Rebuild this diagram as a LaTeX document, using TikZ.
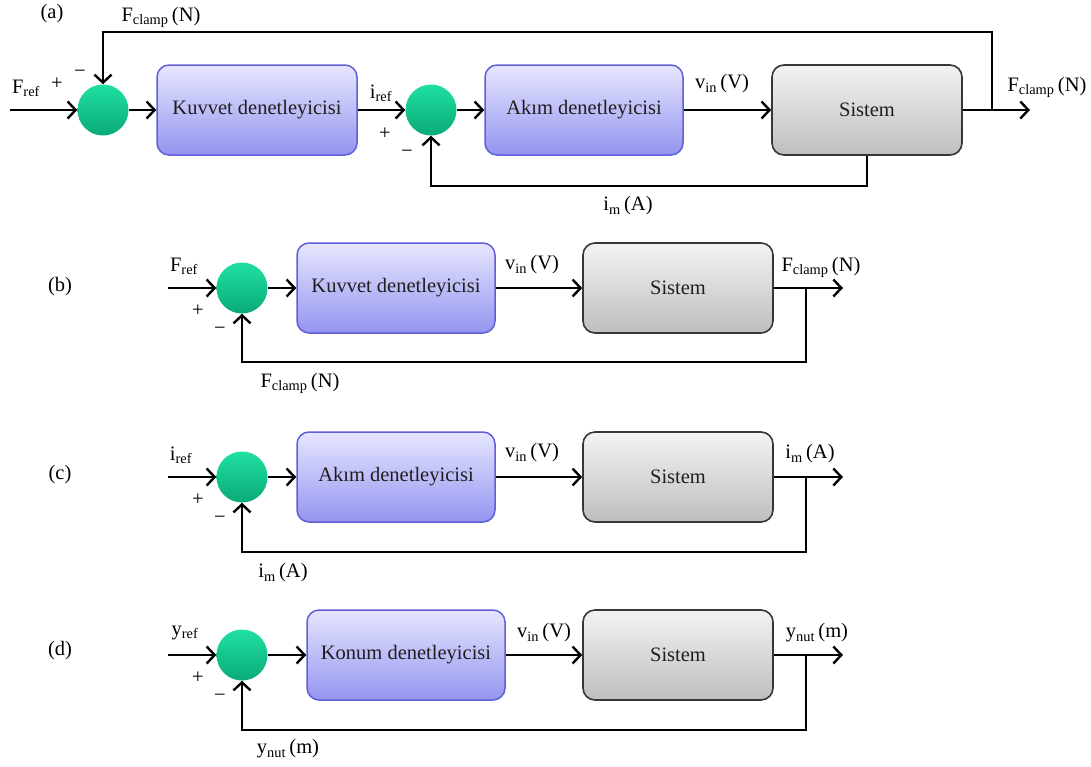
\documentclass[tikz,border=0pt]{standalone}
\usepackage{fontspec}
\setmainfont{Liberation Serif}
\usetikzlibrary{arrows.meta}

\definecolor{ctrltop}{RGB}{230,230,255}
\definecolor{ctrlbot}{RGB}{148,148,240}
\definecolor{ctrledge}{RGB}{95,95,215}
\definecolor{systop}{RGB}{243,243,243}
\definecolor{sysbot}{RGB}{190,190,190}
\definecolor{sysedge}{RGB}{55,55,55}
\definecolor{sumtop}{RGB}{32,224,162}
\definecolor{sumbot}{RGB}{10,170,120}
\definecolor{txt}{RGB}{30,30,30}

\newcommand{\sbs}[1]{\textsubscript{#1}}
\newcommand{\mns}{\char"2212}

\begin{document}
\begin{tikzpicture}[x=1pt,y=-1pt,
  font=\fontsize{20.5}{24}\selectfont, text=txt,
  ctrlbox/.style={draw=ctrledge, line width=1.5pt, rounded corners=12pt,
    top color=ctrltop, bottom color=ctrlbot, minimum width=198pt,
    minimum height=90pt, inner sep=0pt},
  sysbox/.style={draw=sysedge, line width=1.6pt, rounded corners=12pt,
    top color=systop, bottom color=sysbot, minimum width=190pt,
    minimum height=90pt, inner sep=0pt},
  sumnode/.style={circle, minimum size=51pt, inner sep=0pt,
    top color=sumtop, bottom color=sumbot},
  sig/.style={line width=2.4pt, -{Straight Barb[length=8pt,width=17pt]}},
  lbl/.style={inner sep=0pt, text=black}]

\useasboundingbox (0,0) rectangle (1091,766);

% ---------------- (a) cascaded force / current loop ----------------
\node[lbl] (tagA) at (52,14) {(a)};
\coordinate (inA) at (10,110);
\node[sumnode] (sA1) at (103,110) {};
\node[ctrlbox, minimum width=200pt] (kA) at (257,110) {Kuvvet denetleyicisi};
\node[sumnode] (sA2) at (431,110) {};
\node[ctrlbox] (cA) at (584,110) {Akım denetleyicisi};
\node[sysbox] (sysA) at (867,110) {Sistem};
\coordinate (brA) at (992,110);
\coordinate (outA) at (1030,110);
\coordinate (topA) at (992,32);

\draw[sig] (inA) -- (sA1.west);
\draw[sig] (sA1.east) -- (kA.west);
\draw[sig] (kA.east) -- (sA2.west);
\draw[sig] (sA2.east) -- (cA.west);
\draw[sig] (cA.east) -- (sysA.west);
\draw[sig] (sysA.east) -- (outA);
\draw[sig] (brA) -- (topA) -| (sA1.north);
\draw[sig] (sysA.south) -- ++(0,30) -| (sA2.south);

\node[lbl] (fclA) at (161,17) {F\sbs{clamp}\,(N)};
\node[lbl] (frefA) at (26,88) {F\sbs{ref}};
\node[lbl] (pA1) at (57,84) {+};
\node[lbl] (mA1) at (80,74) {\mns};
\node[lbl] (irefA) at (381,93) {i\sbs{ref}};
\node[lbl] (pA2) at (385,134) {+};
\node[lbl] (mA2) at (407,154) {\mns};
\node[lbl] (vinA) at (722,84) {v\sbs{in}\,(V)};
\node[lbl] (foutA) at (1047,87) {F\sbs{clamp}\,(N)};
\node[lbl] (imA) at (628,206) {i\sbs{m}\,(A)};

% ---------------- (b) force loop ----------------
\node[lbl] (tagB) at (60,287) {(b)};
\coordinate (inB) at (168,288);
\node[sumnode] (sB) at (242,288) {};
\node[ctrlbox] (kB) at (396,288) {Kuvvet denetleyicisi};
\node[sysbox] (sysB) at (678,288) {Sistem};
\coordinate (brB) at (806,288);
\coordinate (outB) at (843,288);
\coordinate (fbB) at (806,362);

\draw[sig] (inB) -- (sB.west);
\draw[sig] (sB.east) -- (kB.west);
\draw[sig] (kB.east) -- (sysB.west);
\draw[sig] (sysB.east) -- (outB);
\draw[sig] (brB) -- (fbB) -| (sB.south);

\node[lbl] (frefB) at (184,266) {F\sbs{ref}};
\node[lbl] (pB) at (198,311) {+};
\node[lbl] (mB) at (220,331) {\mns};
\node[lbl] (vinB) at (532,265) {v\sbs{in}\,(V)};
\node[lbl] (foutB) at (821,267) {F\sbs{clamp}\,(N)};
\node[lbl] (fbtB) at (300,383) {F\sbs{clamp}\,(N)};

% ---------------- (c) current loop ----------------
\node[lbl] (tagC) at (60,475) {(c)};
\coordinate (inC) at (168,477);
\node[sumnode] (sC) at (242,477) {};
\node[ctrlbox] (kC) at (396,477) {Akım denetleyicisi};
\node[sysbox] (sysC) at (678,477) {Sistem};
\coordinate (brC) at (806,477);
\coordinate (outC) at (843,477);
\coordinate (fbC) at (806,552);

\draw[sig] (inC) -- (sC.west);
\draw[sig] (sC.east) -- (kC.west);
\draw[sig] (kC.east) -- (sysC.west);
\draw[sig] (sysC.east) -- (outC);
\draw[sig] (brC) -- (fbC) -| (sC.south);

\node[lbl] (irefC) at (181,455) {i\sbs{ref}};
\node[lbl] (pC) at (198,500) {+};
\node[lbl] (mC) at (220,520) {\mns};
\node[lbl] (vinC) at (532,453) {v\sbs{in}\,(V)};
\node[lbl] (ioutC) at (810,454) {i\sbs{m}\,(A)};
\node[lbl] (fbtC) at (283,573) {i\sbs{m}\,(A)};

% ---------------- (d) position loop ----------------
\node[lbl] (tagD) at (60,651) {(d)};
\coordinate (inD) at (168,655);
\node[sumnode] (sD) at (242,655) {};
\node[ctrlbox] (kD) at (406,655) {Konum denetleyicisi};
\node[sysbox] (sysD) at (678,655) {Sistem};
\coordinate (brD) at (806,655);
\coordinate (outD) at (843,655);
\coordinate (fbD) at (806,730);

\draw[sig] (inD) -- (sD.west);
\draw[sig] (sD.east) -- (kD.west);
\draw[sig] (kD.east) -- (sysD.west);
\draw[sig] (sysD.east) -- (outD);
\draw[sig] (brD) -- (fbD) -| (sD.south);

\node[lbl] (yrefD) at (185,633) {y\sbs{ref}};
\node[lbl] (pD) at (198,678) {+};
\node[lbl] (mD) at (220,698) {\mns};
\node[lbl] (vinD) at (544,633) {v\sbs{in}\,(V)};
\node[lbl] (youtD) at (817,633) {y\sbs{nut}\,(m)};
\node[lbl] (fbtD) at (288,749) {y\sbs{nut}\,(m)};

\end{tikzpicture}
\end{document}
